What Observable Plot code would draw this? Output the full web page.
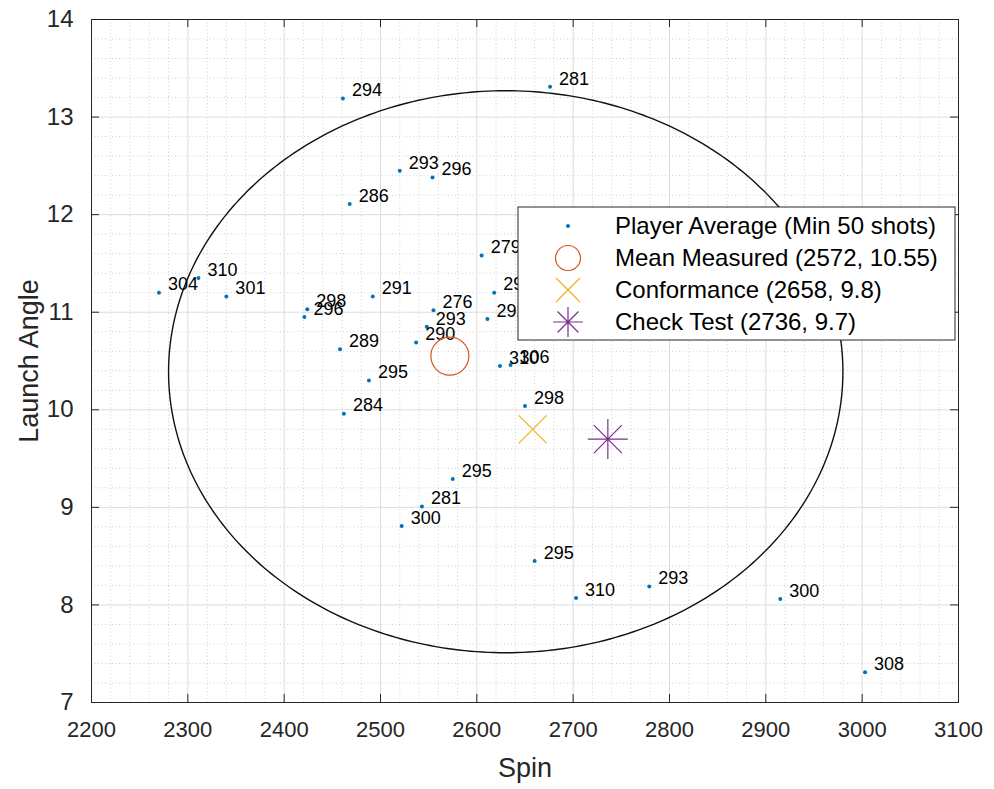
<!DOCTYPE html>
<html>
<head>
<meta charset="utf-8">
<script src="https://cdn.jsdelivr.net/npm/d3@7"></script>
<script src="https://cdn.jsdelivr.net/npm/@observablehq/plot@0.6"></script>
<style>
  html, body { margin: 0; padding: 0; background: #fff; }
  #chart svg { display: block; }
</style>
</head>
<body>
<div id="chart"></div>
<script>
// ---- Data ----
const playerSpin   = [2461, 2676, 2520, 2554, 2468, 2605, 2618, 2611, 2555, 2548, 2537, 2492, 2424, 2421, 2458, 2488, 2462, 2270, 2340, 2311, 2624, 2635, 2650, 2575, 2543, 2522, 2660, 2703, 2779, 2915, 3003];
const playerLaunch = [13.19, 13.31, 12.45, 12.38, 12.11, 11.58, 11.20, 10.93, 11.02, 10.85, 10.69, 11.16, 11.03, 10.95, 10.62, 10.30, 9.96, 11.20, 11.16, 11.35, 10.45, 10.46, 10.04, 9.29, 9.01, 8.81, 8.45, 8.07, 8.19, 8.06, 7.31];
const playerLabel  = ["294", "281", "293", "296", "286", "279", "297", "292", "276", "293", "290", "291", "298", "296", "289", "295", "284", "304", "301", "310", "310", "306", "298", "295", "281", "300", "295", "310", "293", "300", "308"];

const refNames  = ["Mean Measured (2572, 10.55)", "Conformance (2658, 9.8)", "Check Test (2736, 9.7)"];
const refSpin   = [2572, 2658, 2736];
const refLaunch = [10.55, 9.8, 9.7];

const ellipseCenter = [2630, 10.39];
const ellipseRadii  = [350, 2.88];

const xTicks = [2200, 2300, 2400, 2500, 2600, 2700, 2800, 2900, 3000, 3100];
const yTicks = [7, 8, 9, 10, 11, 12, 13, 14];

// ---- Derived tables ----
const players = playerSpin.map((s, i) => ({spin: s, launch: playerLaunch[i], label: playerLabel[i]}));
const refs = refNames.map((n, i) => ({name: n, spin: refSpin[i], launch: refLaunch[i]}));
const ellipse = d3.range(0, 361, 1).map(a => {
  const t = a * Math.PI / 180;
  return {spin: ellipseCenter[0] + ellipseRadii[0] * Math.cos(t), launch: ellipseCenter[1] + ellipseRadii[1] * Math.sin(t)};
});
const minorX = d3.range(2200, 3101, 20).filter(v => v % 100 !== 0);
const minorY = d3.range(70, 141, 2).map(v => v / 10).filter(v => !Number.isInteger(v));

const W = 994, H = 789, mL = 91, mR = 36, mT = 19, mB = 87;
const innerW = W - mL - mR, innerH = H - mT - mB;
const TL = 8;

const timesSymbol = {
  draw(ctx, size) {
    const r = Math.sqrt(size / Math.PI);
    ctx.moveTo(-r, -r); ctx.lineTo(r, r);
    ctx.moveTo(-r, r); ctx.lineTo(r, -r);
  }
};
const asteriskSymbol = {
  draw(ctx, size) {
    const r = Math.sqrt(size / Math.PI);
    const d = r * 0.7;
    ctx.moveTo(0, -r); ctx.lineTo(0, r);
    ctx.moveTo(-r, 0); ctx.lineTo(r, 0);
    ctx.moveTo(-d, -d); ctx.lineTo(d, d);
    ctx.moveTo(-d, d); ctx.lineTo(d, -d);
  }
};

const font = "'Liberation Sans', Arial, Helvetica, sans-serif";

const plot = Plot.plot({
  width: W, height: H,
  marginLeft: mL, marginRight: mR, marginTop: mT, marginBottom: mB,
  style: {fontFamily: font, background: "#fff", overflow: "visible"},
  x: {domain: [2200, 3100], label: null},
  y: {domain: [7, 14], label: null},
  marks: [
    Plot.ruleX(minorX, {x: d => d, stroke: "#c4c4c4", strokeDasharray: "1,2.5", strokeWidth: 0.8}),
    Plot.ruleY(minorY, {y: d => d, stroke: "#c4c4c4", strokeDasharray: "1,2.5", strokeWidth: 0.8}),
    Plot.ruleX(xTicks, {x: d => d, stroke: "#dcdcdc", strokeWidth: 1}),
    Plot.ruleY(yTicks, {y: d => d, stroke: "#dcdcdc", strokeWidth: 1}),
    Plot.line(ellipse, {x: "spin", y: "launch", stroke: "#111", strokeWidth: 1.4}),
    Plot.dot(players, {x: "spin", y: "launch", r: 2, fill: "#0072BD", stroke: "none"}),
    Plot.text(players, {x: "spin", y: "launch", text: "label", dx: 9, dy: -8, textAnchor: "start", fontSize: 18, fill: "#000"}),
    Plot.dot(refs.slice(0, 1), {x: "spin", y: "launch", r: 19, fill: "none", stroke: "#D95319", strokeWidth: 1.2}),
    Plot.dot(refs.slice(1, 2), {x: "spin", y: "launch", r: 14, symbol: timesSymbol, fill: "none", stroke: "#EDB120", strokeWidth: 1.2}),
    Plot.dot(refs.slice(2, 3), {x: "spin", y: "launch", r: 20, symbol: asteriskSymbol, fill: "none", stroke: "#7E2F8E", strokeWidth: 1.2}),
    Plot.frame({stroke: "#262626", strokeWidth: 1}),
    Plot.tickX(xTicks, {x: d => d, insetTop: innerH - TL, stroke: "#262626"}),
    Plot.tickX(xTicks, {x: d => d, insetBottom: innerH - TL, stroke: "#262626"}),
    Plot.tickY(yTicks, {y: d => d, insetRight: innerW - TL, stroke: "#262626"}),
    Plot.tickY(yTicks, {y: d => d, insetLeft: innerW - TL, stroke: "#262626"}),
    Plot.axisX({ticks: xTicks, tickFormat: d => String(d), tickSize: 0, tickPadding: 19, fontSize: 22, label: null, color: "#262626"}),
    Plot.axisY({ticks: yTicks, tickFormat: d => String(d), tickSize: 0, tickPadding: 18, fontSize: 24, label: null, color: "#262626"}),
    Plot.text(["Spin"], {frameAnchor: "bottom", textAnchor: "middle", dy: 74, fontSize: 27, fill: "#262626", text: d => d}),
    Plot.text(["Launch Angle"], {frameAnchor: "left", textAnchor: "middle", dx: -62, rotate: -90, fontSize: 27, fill: "#262626", text: d => d})
  ]
});

document.getElementById("chart").appendChild(plot);

// ---- Legend (inside axes, top-right) ----
const svg = d3.select(plot);
const lg = svg.append("g").attr("font-family", font).attr("text-anchor", "start");
const lx = 518, ly = 207, lw = 437, lh = 133;
lg.append("rect").attr("x", lx).attr("y", ly).attr("width", lw).attr("height", lh)
  .attr("fill", "#fff").attr("stroke", "#262626").attr("stroke-width", 1);
const legendItems = ["Player Average (Min 50 shots)"].concat(refNames);
const rowY = [226, 258, 290, 322];
const sx = 568;
legendItems.forEach((t, i) => {
  lg.append("text").attr("x", 615).attr("y", rowY[i]).attr("dy", "0.35em")
    .attr("text-anchor", "start").attr("font-size", 24).attr("fill", "#000").text(t);
});
lg.append("circle").attr("cx", sx).attr("cy", rowY[0]).attr("r", 2).attr("fill", "#0072BD");
lg.append("circle").attr("cx", sx).attr("cy", rowY[1]).attr("r", 12.5).attr("fill", "none").attr("stroke", "#D95319").attr("stroke-width", 1.2);
lg.append("path").attr("transform", `translate(${sx},${rowY[2]})`)
  .attr("d", d3.symbol(timesSymbol, Math.PI * 12 * 12)()).attr("fill", "none").attr("stroke", "#EDB120").attr("stroke-width", 1.2);
lg.append("path").attr("transform", `translate(${sx},${rowY[3]})`)
  .attr("d", d3.symbol(asteriskSymbol, Math.PI * 15 * 15)()).attr("fill", "none").attr("stroke", "#7E2F8E").attr("stroke-width", 1.2);
</script>
</body>
</html>
